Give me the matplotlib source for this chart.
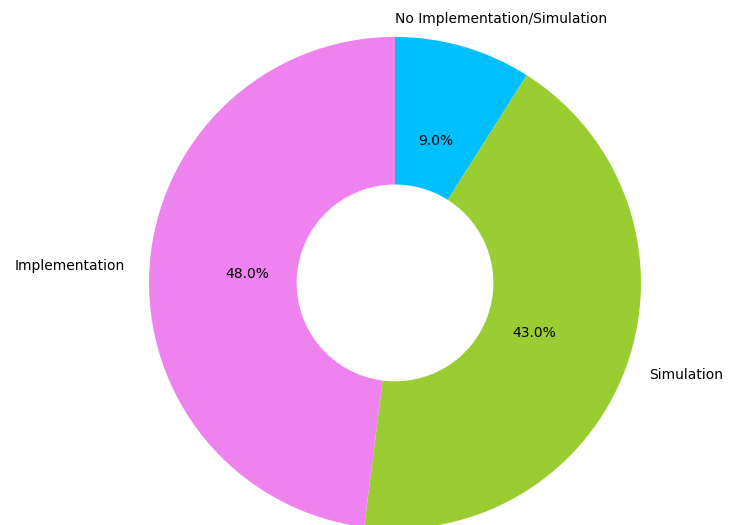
import matplotlib
matplotlib.use("Agg")
import matplotlib.pyplot as plt

# Share of works by validation type
labels = ['No Implementation/Simulation', 'Simulation', 'Implementation']
shares = [9, 43, 48]
colors = ['deepskyblue', 'yellowgreen', 'violet']

fig = plt.figure(figsize=(7.29, 5.25), dpi=100)
ax = fig.add_axes([0, 0, 1, 1])

wedges, texts, autotexts = ax.pie(shares, labels=labels, colors=colors,
                                  autopct='%1.1f%%', startangle=90,
                                  counterclock=False, pctdistance=0.6,
                                  labeldistance=1.1,
                                  wedgeprops=dict(width=0.6))

# small slice label sits above the ring, starting at the top
texts[0].set_position((0.0, 1.074))
texts[0].set_ha('left')
texts[0].set_va('center')

# donut placed a bit right of centre, bottom edge just cut off
ax.set_xlim(-1.606, 1.358)
ax.set_ylim(-0.984, 1.150)
ax.set_aspect('auto')
ax.axis('off')

fig.savefig('out.png', dpi=100)
